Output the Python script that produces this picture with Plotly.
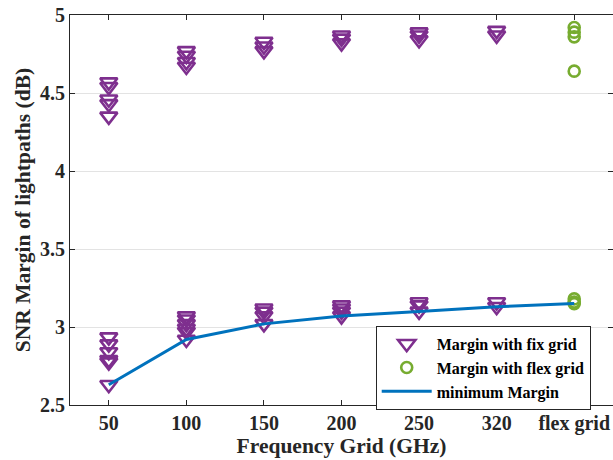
import plotly.graph_objects as go

categories = ["50", "100", "150", "200", "250", "320", "flex grid"]

fix_50 = [4.57, 4.54, 4.46, 4.43, 4.35, 2.935, 2.89, 2.84, 2.79, 2.775, 2.63]
fix_100 = [4.77, 4.74, 4.70, 4.67, 3.07, 3.05, 3.02, 2.99, 2.97, 2.92]
fix_150 = [4.83, 4.80, 4.77, 3.12, 3.10, 3.07, 3.02]
fix_200 = [4.87, 4.85, 4.82, 3.14, 3.12, 3.10, 3.07]
fix_250 = [4.89, 4.87, 4.84, 3.16, 3.14, 3.10]
fix_320 = [4.90, 4.87, 3.16, 3.13]
flex_vals = [4.92, 4.89, 4.86, 4.64, 3.18, 3.16, 3.15]
min_margin = [2.63, 2.92, 3.02, 3.07, 3.10, 3.13, 3.15]
y_ticks = [2.5, 3, 3.5, 4, 4.5, 5]
y_tick_labels = ["2.5", "3", "3.5", "4", "4.5", "5"]

fix_groups = [fix_50, fix_100, fix_150, fix_200, fix_250, fix_320]

fix_x, fix_y = [], []
for cat, vals in zip(categories[:6], fix_groups):
    fix_x += [cat] * len(vals)
    fix_y += vals

FONT = "Liberation Serif"
fig = go.Figure()
fig.add_trace(go.Scatter(
    x=fix_x, y=fix_y, mode="markers", name="<b>Margin with fix grid</b>",
    marker=dict(symbol="triangle-down-open", size=15, color="#7E2F8E",
                line=dict(width=2.6, color="#7E2F8E")),
))
fig.add_trace(go.Scatter(
    x=[categories[6]] * len(flex_vals), y=flex_vals, mode="markers",
    name="<b>Margin with flex grid</b>",
    marker=dict(symbol="circle-open", size=11, color="#77AC30",
                line=dict(width=2.6, color="#77AC30")),
))
fig.add_trace(go.Scatter(
    x=categories, y=min_margin, mode="lines", name="<b>minimum Margin</b>",
    line=dict(color="#0072BD", width=3),
))

fig.update_layout(
    width=613, height=460,
    margin=dict(l=70, r=0, t=15, b=55),
    plot_bgcolor="white", paper_bgcolor="white",
    font=dict(family=FONT, size=20, color="#262626"),
    legend=dict(
        x=0.563, y=0.203, xanchor="left", yanchor="top",
        bgcolor="white", bordercolor="#262626", borderwidth=1,
        font=dict(family=FONT, size=16, color="#000000"),
        tracegroupgap=0, itemwidth=50,
    ),
    showlegend=True,
)
fig.update_xaxes(
    type="category", categoryorder="array", categoryarray=categories,
    tickvals=categories, ticktext=["<b>%s</b>" % c for c in categories],
    range=[-0.5, 6.5],
    showline=True, linecolor="#262626", linewidth=1, mirror="ticks",
    ticks="inside", ticklen=5, tickcolor="#262626",
    showgrid=False, zeroline=False,
    title=dict(text="<b>Frequency Grid (GHz)</b>", font=dict(family=FONT, size=21.5), standoff=3),
    tickfont=dict(family=FONT, size=20),
)
fig.update_yaxes(
    range=[2.5, 5], tickvals=y_ticks,
    ticktext=["<b>%s</b>" % t for t in y_tick_labels],
    showline=True, linecolor="#262626", linewidth=1, mirror="ticks",
    ticks="inside", ticklen=5, tickcolor="#262626",
    showgrid=True, gridcolor="#e3e3e3", gridwidth=1, zeroline=False,
    title=dict(text="<b>SNR Margin of lightpaths (dB)</b>", font=dict(family=FONT, size=21.5), standoff=3),
    tickfont=dict(family=FONT, size=20),
)

fig.write_html("out.html")
